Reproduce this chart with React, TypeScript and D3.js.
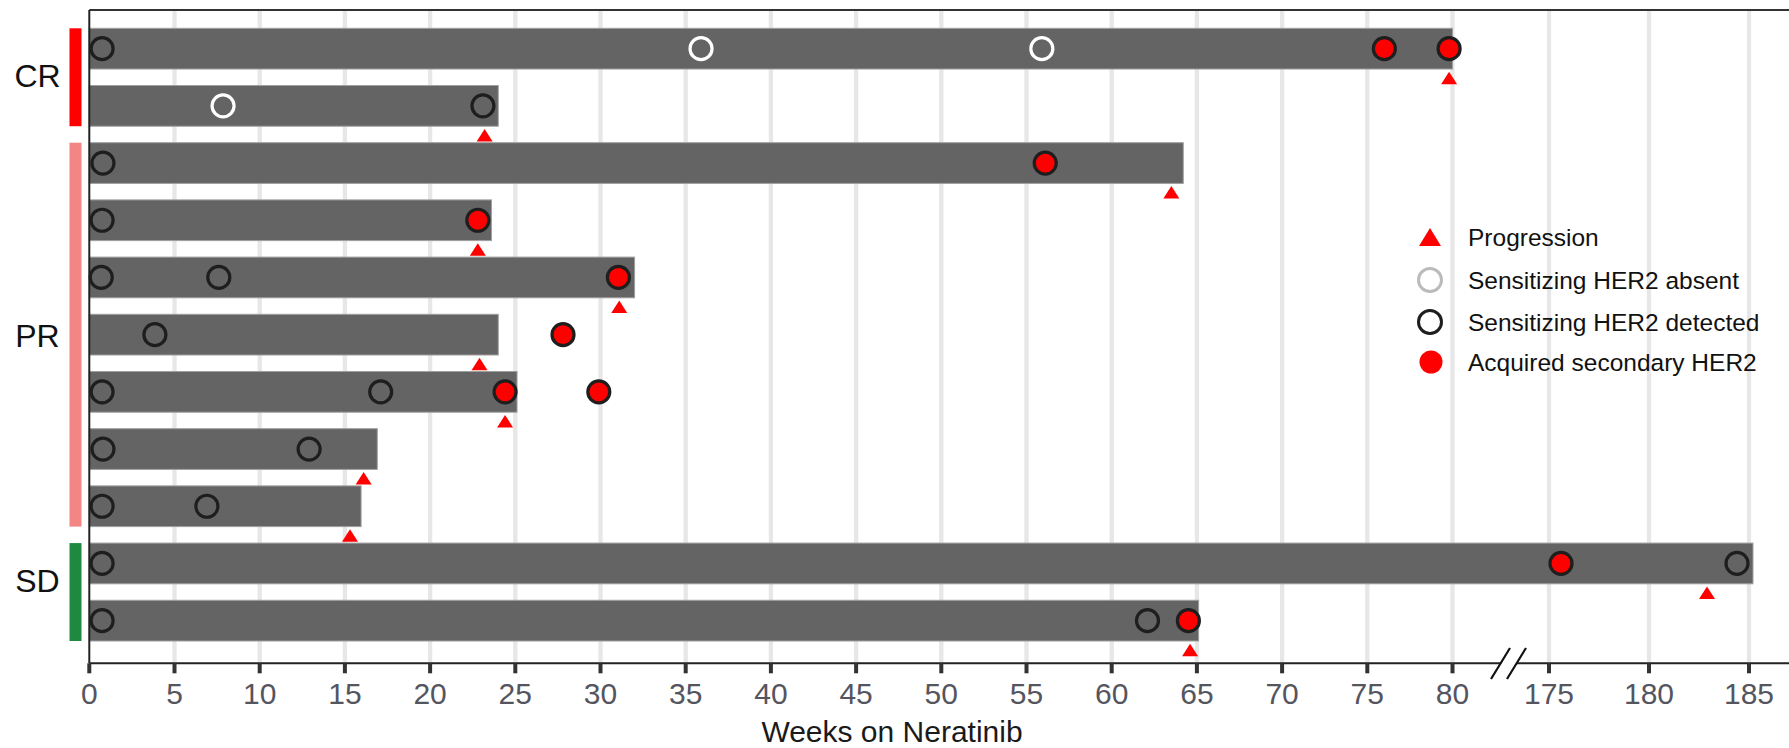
import React from "react";
import * as d3 from "d3";

// ---------- data ----------
const responseGroups = ["CR", "PR", "SD"];
const groupColors = ["#ff0000", "#f38585", "#1f8a3f"];
const rowGroup = [0, 0, 1, 1, 1, 1, 1, 1, 1, 2, 2];
const weeksOnTreatment = [80, 24, 64.2, 23.6, 32, 24, 25.1, 16.9, 15.95, 185.2, 65.1];
const progressionWeek = [79.8, 23.2, 63.5, 22.8, 31.1, 22.9, 24.4, 16.1, 15.3, 182.9, 64.6];

const detectedRow = [0, 1, 2, 3, 4, 4, 5, 6, 6, 7, 7, 8, 8, 9, 9, 10, 10];
const detectedWeek = [0.75, 23.1, 0.8, 0.75, 0.7, 7.6, 3.85, 0.75, 17.1, 0.8, 12.9, 0.75, 6.9, 0.75, 184.4, 0.75, 62.1];

const absentRow = [0, 0, 1];
const absentWeek = [35.9, 55.9, 7.85];

const acquiredRow = [0, 0, 2, 3, 4, 5, 6, 6, 9, 10];
const acquiredWeek = [76.0, 79.8, 56.1, 22.8, 31.05, 27.8, 24.4, 29.9, 175.6, 64.5];

const xTicks = [0, 5, 10, 15, 20, 25, 30, 35, 40, 45, 50, 55, 60, 65, 70, 75, 80, 175, 180, 185];
const legendLabels = ["Progression", "Sensitizing HER2 absent", "Sensitizing HER2 detected", "Acquired secondary HER2"];
const axisTitle = "Weeks on Neratinib";

// ---------- layout ----------
const W = 1789;
const H = 748;
const FONT = "'Liberation Sans', Arial, Helvetica, sans-serif";

const x = d3.scaleLinear().domain([0, 80, 175, 187]).range([89.3, 1452.5, 1549, 1789]);
const rows = d3.range(weeksOnTreatment.length);
const y = d3.scaleBand<number>().domain(rows).range([28.3, 641]).paddingInner(0.288).paddingOuter(0);
const bw = y.bandwidth();
const cy = (r: number) => (y(r) as number) + bw / 2;

const topY = 10;
const axisY = 663.3;
const R = 11;

function triPath(cx: number, top: number, w: number, h: number) {
  const p = d3.path();
  p.moveTo(cx, top);
  p.lineTo(cx + w / 2, top + h);
  p.lineTo(cx - w / 2, top + h);
  p.closePath();
  return p.toString();
}

export default function App() {
  const groupRanges = responseGroups.map((g, gi) => {
    const rs = rows.filter((r) => rowGroup[r] === gi);
    const y0 = y(rs[0]) as number;
    const y1 = (y(rs[rs.length - 1]) as number) + bw;
    return { g, gi, y0, y1 };
  });
  const groupLabelY = [75.5, 335, 580];

  const legendX = 1430;
  const legendYs = [237, 280, 322, 362];

  return (
    <svg
      width={W}
      height={H}
      viewBox={`0 0 ${W} ${H}`}
      style={{ position: "absolute", left: 0, top: 0, background: "#fff" }}
      fontFamily={FONT}
    >
      <rect x={0} y={0} width={W} height={H} fill="#fff" />
      {/* gridlines */}
      {xTicks.filter((t) => t > 0).map((t) => (
        <line key={"g" + t} x1={x(t)} x2={x(t)} y1={topY} y2={axisY} stroke="#e7e7e7" strokeWidth={4.3} />
      ))}
      {/* top frame line */}
      <line x1={x(0)} x2={W} y1={topY} y2={topY} stroke="#333" strokeWidth={1.8} />

      {/* bars */}
      {rows.map((r) => (
        <rect
          key={"b" + r}
          x={x(0)}
          y={y(r) as number}
          width={x(weeksOnTreatment[r]) - x(0)}
          height={bw}
          fill="#646464"
          stroke="#a0a0a0"
          strokeWidth={1}
        />
      ))}

      {/* left axis */}
      <line x1={x(0)} x2={x(0)} y1={topY} y2={axisY} stroke="#222" strokeWidth={2} />
      {/* bottom axis */}
      <line x1={x(0)} x2={W} y1={axisY} y2={axisY} stroke="#222" strokeWidth={2} />
      {xTicks.map((t) => (
        <g key={"t" + t}>
          <rect x={x(t) - 2} y={axisY} width={4} height={10} fill="#333" />
          <text x={x(t)} y={704} textAnchor="middle" fontSize={30} fill="#555560">
            {t}
          </text>
        </g>
      ))}
      {/* axis break */}
      <polygon points="1492,679 1510,648 1526,648 1508,679" fill="#fff" />
      <line x1={1491} y1={679} x2={1510} y2={648} stroke="#111" strokeWidth={2.2} />
      <line x1={1507} y1={679} x2={1526} y2={648} stroke="#111" strokeWidth={2.2} />
      <text x={892} y={742} textAnchor="middle" fontSize={30} fill="#1a1a1a">
        {axisTitle}
      </text>

      {/* group bars & labels */}
      {groupRanges.map(({ g, gi, y0, y1 }) => (
        <g key={g}>
          <rect x={69.5} y={y0} width={12} height={y1 - y0} fill={groupColors[gi]} />
          <text x={37.5} y={groupLabelY[gi] + 11.5} textAnchor="middle" fontSize={32} fill="#111">
            {g}
          </text>
        </g>
      ))}

      {/* sample markers */}
      {detectedRow.map((r, i) => (
        <circle key={"d" + i} cx={x(detectedWeek[i])} cy={cy(r)} r={R} fill="none" stroke="#1e1e1e" strokeWidth={3.2} />
      ))}
      {absentRow.map((r, i) => (
        <circle key={"a" + i} cx={x(absentWeek[i])} cy={cy(r)} r={R} fill="none" stroke="#ffffff" strokeWidth={3.2} />
      ))}
      {acquiredRow.map((r, i) => (
        <circle key={"q" + i} cx={x(acquiredWeek[i])} cy={cy(r)} r={R} fill="#ff0000" stroke="#1e1e1e" strokeWidth={3.2} />
      ))}
      {/* progression */}
      {rows.map((r) => (
        <path key={"p" + r} d={triPath(x(progressionWeek[r]), (y(r) as number) + bw + 2.7, 16, 12.5)} fill="#ff0000" />
      ))}

      {/* legend */}
      <path d={triPath(legendX, legendYs[0] - 9, 22, 18)} fill="#ff0000" />
      <circle cx={legendX} cy={legendYs[1]} r={11.5} fill="none" stroke="#bbbbbb" strokeWidth={3} />
      <circle cx={legendX} cy={legendYs[2]} r={11.5} fill="none" stroke="#1e1e1e" strokeWidth={3} />
      <circle cx={legendX + 1} cy={legendYs[3]} r={11.5} fill="#ff0000" />
      {legendLabels.map((l, i) => (
        <text key={l} x={1468} y={legendYs[i] + 8.5} fontSize={24.5} fill="#111">
          {l}
        </text>
      ))}
    </svg>
  );
}
